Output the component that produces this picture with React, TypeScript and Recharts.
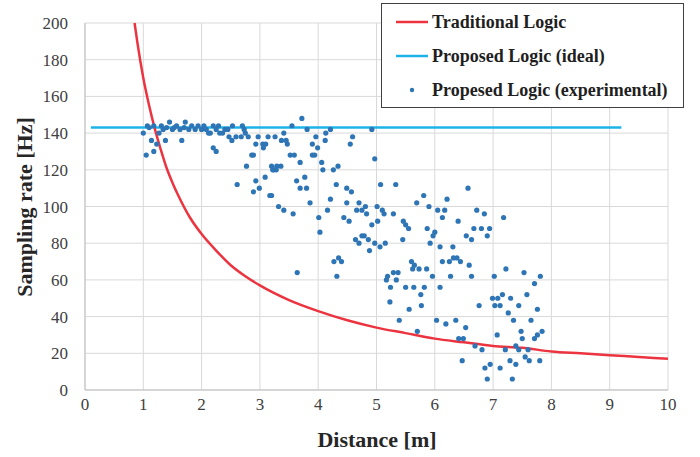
import React from 'react';
import { ComposedChart, Line, Scatter, XAxis, YAxis, CartesianGrid, Label } from 'recharts';

const FONT = '"Liberation Serif", "Times New Roman", serif';

const xTicks = [0, 1, 2, 3, 4, 5, 6, 7, 8, 9, 10];
const yTicks = [0, 20, 40, 60, 80, 100, 120, 140, 160, 180, 200];

// Traditional Logic curve
const tradDistance = [0.85, 0.9, 1.0, 1.1, 1.2, 1.3, 1.4, 1.5, 1.6, 1.8, 2.0, 2.25, 2.5, 2.75, 3.0, 3.5, 4.0, 4.5, 5.0, 5.5, 6.0, 6.5, 7.0, 7.5, 8.0, 8.5, 9.0, 9.5, 10.0];
const tradRate = [200, 189, 170, 155, 142, 131, 121, 113, 106, 94, 85, 76, 68, 62, 57, 49, 43, 38, 34, 31, 28, 26, 24, 23, 21, 20, 19, 18, 17];

// Proposed Logic (ideal)
const idealDistance = [0.1, 9.2];
const idealRate = [143, 143];

// Proposed Logic (experimental) – [distance, rate]
const expPoints: [number, number][] = [
  [1.0, 140], [1.05, 128], [1.07, 144], [1.1, 143], [1.14, 136], [1.18, 144], [1.18, 130], [1.23, 134],
  [1.27, 140], [1.31, 144], [1.34, 142], [1.38, 136], [1.4, 143], [1.45, 146], [1.5, 142], [1.53, 143],
  [1.57, 144], [1.63, 142], [1.66, 136], [1.7, 143], [1.72, 146], [1.78, 142], [1.83, 144], [1.89, 142],
  [1.94, 144], [2.0, 142], [2.04, 144], [2.08, 142], [2.12, 140], [2.15, 140], [2.2, 144], [2.2, 132],
  [2.25, 130], [2.25, 142], [2.29, 144], [2.31, 140], [2.36, 140], [2.4, 142], [2.45, 142], [2.47, 138],
  [2.52, 136], [2.53, 144], [2.59, 138], [2.68, 138], [2.7, 144], [2.73, 142], [2.75, 140], [2.8, 138],
  [2.77, 122], [2.61, 112], [2.86, 128], [2.89, 128], [2.93, 134], [2.93, 114], [2.89, 108], [2.99, 110],
  [2.97, 138], [3.05, 134], [3.1, 134], [3.06, 132], [3.09, 116], [3.14, 138], [3.26, 138], [3.17, 106],
  [3.2, 106], [3.22, 120], [3.24, 120], [3.29, 122], [3.32, 100], [3.2, 122], [3.28, 120], [3.36, 122],
  [3.41, 140], [3.37, 136], [3.45, 136], [3.47, 134], [3.72, 148], [3.55, 144], [3.81, 142], [3.52, 128],
  [3.59, 128], [3.69, 124], [3.96, 138], [3.9, 134], [3.99, 132], [3.9, 128], [3.94, 128], [4.13, 140],
  [4.21, 142], [4.12, 136], [4.06, 124], [4.08, 120], [4.26, 120], [4.34, 122], [4.59, 138], [4.55, 134],
  [4.92, 142], [4.97, 126], [3.41, 98], [3.57, 96], [3.63, 114], [3.69, 110], [3.77, 116], [3.8, 110],
  [3.86, 102], [4.01, 94], [4.16, 98], [4.21, 104], [4.31, 112], [4.49, 110], [4.57, 108], [4.49, 102],
  [4.44, 94], [4.53, 92], [4.66, 98], [4.75, 98], [4.7, 102], [4.81, 100], [4.83, 96], [4.92, 90],
  [5.01, 100], [5.02, 92], [5.1, 98], [5.13, 96], [5.07, 112], [4.03, 86], [5.29, 96], [4.64, 82],
  [4.7, 80], [4.75, 84], [4.79, 84], [4.86, 82], [4.97, 80], [5.06, 78], [5.15, 80], [4.88, 76],
  [4.27, 70], [4.35, 72], [4.4, 70], [4.32, 62], [3.64, 64], [5.29, 64], [5.37, 64], [5.19, 62],
  [5.17, 60], [5.34, 60], [5.24, 56], [5.33, 112], [6.57, 110], [5.81, 106], [6.21, 104], [5.69, 102],
  [5.9, 100], [6.05, 98], [6.17, 98], [6.13, 94], [6.4, 92], [6.72, 98], [6.85, 96], [5.46, 92],
  [5.5, 90], [5.55, 88], [5.87, 88], [6.67, 88], [6.8, 88], [6.0, 86], [5.97, 84], [6.94, 88],
  [6.54, 84], [6.63, 82], [6.9, 84], [5.45, 82], [5.92, 80], [6.09, 78], [6.31, 78], [6.13, 70],
  [6.25, 70], [6.32, 72], [6.38, 72], [6.44, 70], [6.59, 68], [5.6, 70], [5.65, 68], [5.62, 66],
  [5.73, 66], [5.86, 66], [5.96, 62], [6.27, 62], [6.63, 62], [7.02, 62], [5.5, 56], [5.64, 56],
  [5.82, 56], [6.09, 56], [5.76, 52], [5.23, 48], [5.77, 46], [5.56, 44], [6.99, 50], [7.08, 50],
  [7.16, 52], [7.3, 50], [7.03, 46], [6.76, 46], [5.39, 38], [6.03, 38], [6.19, 36], [6.36, 38],
  [6.53, 34], [5.7, 32], [6.41, 28], [6.49, 28], [7.07, 30], [7.18, 94], [7.22, 66], [7.53, 64],
  [7.81, 62], [7.71, 58], [7.58, 52], [7.12, 46], [7.44, 46], [7.76, 44], [7.26, 42], [7.35, 38],
  [7.65, 38], [7.48, 32], [7.84, 32], [7.5, 28], [7.76, 30], [7.71, 28], [6.69, 24], [6.81, 22],
  [7.21, 22], [7.39, 24], [7.44, 22], [7.6, 22], [7.55, 18], [6.47, 16], [6.95, 14], [7.29, 16],
  [7.39, 14], [7.62, 16], [7.8, 16], [6.86, 12], [7.12, 12], [6.9, 6], [7.33, 6],
];

const tradData = tradDistance.map((x, i) => ({ x, y: tradRate[i] }));
const idealData = idealDistance.map((x, i) => ({ x, y: idealRate[i] }));
const expData = expPoints.map(([x, y]) => ({ x, y }));

const RED = '#ec3440';
const CYAN = '#1cb4e8';
const BLUE = '#2e75b6';

const legendItems = [
  { name: 'Traditional Logic', color: RED, kind: 'line' },
  { name: 'Proposed Logic (ideal)', color: CYAN, kind: 'line' },
  { name: 'Propesed Logic (experimental)', color: BLUE, kind: 'dot' },
];

const LegendBox = () => (
  <div
    style={{
      position: 'absolute',
      left: 381,
      top: 3,
      width: 303,
      height: 105,
      border: '1.5px solid #404040',
      background: '#fff',
      boxSizing: 'border-box',
      fontFamily: FONT,
      fontWeight: 'bold',
      fontSize: 18,
      color: '#1f1f1f',
      paddingTop: 1,
    }}
  >
    {legendItems.map((it) => (
      <div key={it.name} style={{ display: 'flex', alignItems: 'center', height: 34 }}>
        <svg width={50} height={10} style={{ flex: 'none' }}>
          {it.kind === 'line' ? (
            <line x1={14} x2={46} y1={5} y2={5} stroke={it.color} strokeWidth={2.5} />
          ) : (
            <circle cx={30} cy={5} r={2.2} fill={it.color} />
          )}
        </svg>
        <span style={{ whiteSpace: 'nowrap' }}>{it.name}</span>
      </div>
    ))}
  </div>
);

const Dot = (props: any) => <circle cx={props.cx} cy={props.cy} r={2.6} fill={BLUE} />;

const XTick = (props: any) => (
  <text x={props.x} y={props.y + 12} textAnchor="middle" fontFamily={FONT} fontSize={17} fill="#404040">
    {props.payload.value}
  </text>
);

const YTick = (props: any) => (
  <text x={props.x} y={props.y + 6} textAnchor="end" fontFamily={FONT} fontSize={17} fill="#404040">
    {props.payload.value}
  </text>
);

export default function App() {
  return (
    <div style={{ position: 'absolute', left: 0, top: 0, width: 700, height: 457, background: '#fff' }}>
      <ComposedChart width={700} height={457} margin={{ top: 23, right: 32, bottom: 0, left: 0 }}>
        <CartesianGrid stroke="#d9d9d9" strokeWidth={1} />
        <XAxis
          type="number"
          dataKey="x"
          domain={[0, 10]}
          ticks={xTicks}
          interval={0}
          height={67}
          tickSize={0}
          tickMargin={8}
          axisLine={{ stroke: '#bfbfbf' }}
          tickLine={false}
          tick={<XTick />}
        >
          <Label
            content={() => (
              <text x={377} y={447} textAnchor="middle" fontFamily={FONT} fontWeight="bold" fontSize={22} fill="#262626">
                Distance [m]
              </text>
            )}
          />
        </XAxis>
        <YAxis
          type="number"
          domain={[0, 200]}
          ticks={yTicks}
          interval={0}
          width={85}
          tickSize={0}
          tickMargin={17}
          axisLine={{ stroke: '#bfbfbf' }}
          tickLine={false}
          tick={<YTick />}
        >
          <Label
            content={() => (
              <text
                x={24}
                y={207}
                transform="rotate(-90 24 207)"
                textAnchor="middle"
                dominantBaseline="central"
                fontFamily={FONT}
                fontWeight="bold"
                fontSize={22}
                fill="#262626"
              >
                Sampling rate [Hz]
              </text>
            )}
          />
        </YAxis>
        <Line
          data={idealData}
          dataKey="y"
          name="Proposed Logic (ideal)"
          type="linear"
          stroke={CYAN}
          strokeWidth={2.5}
          dot={false}
          activeDot={false}
          isAnimationActive={false}
        />
        <Line
          data={tradData}
          dataKey="y"
          name="Traditional Logic"
          type="monotone"
          stroke={RED}
          strokeWidth={2.5}
          dot={false}
          activeDot={false}
          isAnimationActive={false}
        />
        <Scatter data={expData} dataKey="y" name="Propesed Logic (experimental)" shape={Dot} isAnimationActive={false} />
      </ComposedChart>
      <LegendBox />
    </div>
  );
}
